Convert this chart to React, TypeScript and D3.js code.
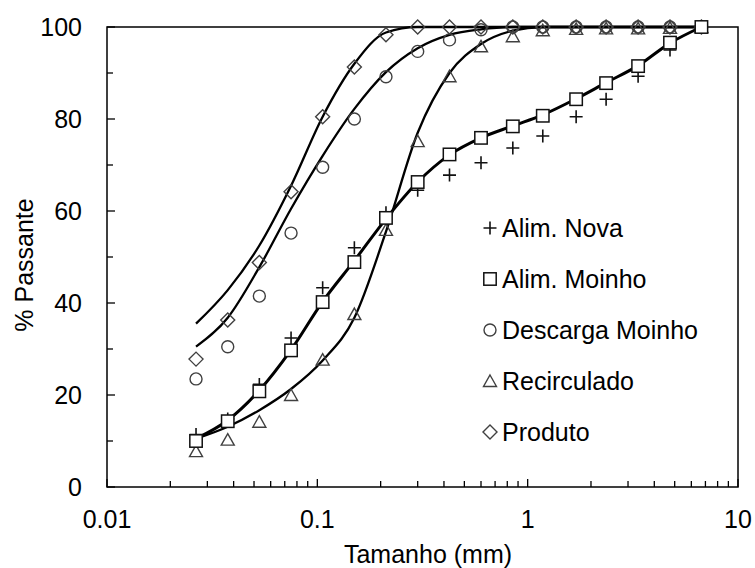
import { useEffect, useRef } from 'react'
import * as d3 from 'd3'

// sieve sizes (mm)
const sizes = [0.0265, 0.0375, 0.053, 0.075, 0.106, 0.15, 0.212, 0.3, 0.425, 0.6, 0.85, 1.18, 1.7, 2.36, 3.35, 4.75, 6.7]

// measured % passing
const alimNova = [11.4, 14.8, 22.3, 32.4, 43.3, 52, 59.6, 64.5, 67.8, 70.5, 73.7, 76.3, 80.5, 84.3, 89.3, 95, 100]
const alimMoinho = [10, 14.3, 20.8, 29.7, 40.2, 48.9, 58.5, 66.3, 72.3, 75.9, 78.4, 80.7, 84.3, 87.8, 91.5, 96.6, 100]
const descarga = [23.5, 30.5, 41.5, 55.2, 69.5, 80, 89.2, 94.7, 97.2, 99.4, 100, 100, 100, 100, 100, 100, 100]
const recirculado = [7.8, 10.3, 14.2, 20, 27.7, 37.6, 55.9, 75.2, 89.3, 95.8, 98, 99.3, 99.6, 99.7, 99.7, 99.8, 100]
const produto = [27.8, 36.3, 48.8, 64.2, 80.5, 91.3, 98.3, 100, 100, 100, 100, 100, 100, 100, 100, 100, 100]

// fitted curves, read at the same sizes
const fitProduto = [35.5, 42.8, 52.5, 65.5, 80.5, 92, 98.8, 100, 100, 100, 100, 100, 100, 100, 100, 100, 100]
const fitDescarga = [30.5, 36.8, 47.8, 60.5, 72, 82.2, 90.2, 95.4, 98.3, 99.5, 100, 100, 100, 100, 100, 100, 100]
const fitAlim = [10.5, 14.5, 21, 29.8, 40.3, 49.2, 58.3, 66.3, 72.2, 75.9, 78.5, 80.9, 84.4, 87.9, 91.6, 96.5, 100]
const fitRecirc = [10.5, 13.1, 16.7, 21.3, 27.5, 36.8, 55.5, 77, 90, 96.3, 99.2, 100, 100, 100, 100, 100, 100]

const xTicks = [0.01, 0.1, 1, 10]
const yTicks = [0, 20, 40, 60, 80, 100]

const legendNames = ['Alim. Nova', 'Alim. Moinho', 'Descarga Moinho', 'Recirculado', 'Produto']
const legendShapes = ['plus', 'square', 'circle', 'triangle', 'diamond']

const font = 'Liberation Sans, Arial, sans-serif'
const mColor = '#404040'

const drawMarker = (g, shape, cx, cy) => {
  if (shape === 'plus') {
    g.append('path')
      .attr('d', `M${cx - 6.5},${cy}H${cx + 6.5}M${cx},${cy - 6.5}V${cy + 6.5}`)
      .attr('stroke', '#111').attr('stroke-width', 1.6).attr('fill', 'none')
  } else if (shape === 'square') {
    g.append('rect')
      .attr('x', cx - 6.2).attr('y', cy - 6.2).attr('width', 12.4).attr('height', 12.4)
      .attr('fill', '#fff').attr('stroke', '#111').attr('stroke-width', 1.5)
  } else if (shape === 'circle') {
    g.append('circle')
      .attr('cx', cx).attr('cy', cy).attr('r', 6)
      .attr('fill', 'none').attr('stroke', mColor).attr('stroke-width', 1.4)
  } else if (shape === 'triangle') {
    g.append('path')
      .attr('d', `M${cx},${cy - 6}L${cx + 6.5},${cy + 5.5}L${cx - 6.5},${cy + 5.5}Z`)
      .attr('fill', 'none').attr('stroke', mColor).attr('stroke-width', 1.4)
  } else {
    g.append('path')
      .attr('d', `M${cx},${cy - 7}L${cx + 7},${cy}L${cx},${cy + 7}L${cx - 7},${cy}Z`)
      .attr('fill', 'none').attr('stroke', mColor).attr('stroke-width', 1.4)
  }
}

const App = () => {
  const chart = useRef(null)

  useEffect(() => {
    const width = 755
    const height = 568
    const margin = { top: 27, right: 17, bottom: 81, left: 107 }

    d3.select(chart.current).selectAll('*').remove()
    const svg = d3.select(chart.current)
      .append('svg')
      .attr('width', width)
      .attr('height', height)
      .style('position', 'absolute')
      .style('left', 0)
      .style('top', 0)
      .style('background', '#fff')

    const x = d3.scaleLog().domain([0.01, 10]).range([margin.left, width - margin.right])
    const y = d3.scaleLinear().domain([0, 100]).range([height - margin.bottom, margin.top])

    // fitted curves
    const line = d3.line()
      .x(d => x(d[0]))
      .y(d => y(d[1]))
      .curve(d3.curveMonotoneX)

    const fits = [
      { v: fitProduto, w: 2.3 },
      { v: fitDescarga, w: 2.3 },
      { v: fitRecirc, w: 2.3 },
      { v: fitAlim, w: 3 },
    ]
    fits.forEach(f => {
      svg.append('path')
        .datum(sizes.map((s, i) => [s, f.v[i]]))
        .attr('d', line)
        .attr('fill', 'none')
        .attr('stroke', '#000')
        .attr('stroke-width', f.w)
        .attr('stroke-linejoin', 'round')
    })

    // frame
    svg.append('rect')
      .attr('x', x(0.01)).attr('y', y(100))
      .attr('width', x(10) - x(0.01)).attr('height', y(0) - y(100))
      .attr('fill', 'none').attr('stroke', '#000').attr('stroke-width', 1.5)

    // y ticks (inside)
    d3.range(0, 101, 10).forEach(v => {
      const len = v % 20 === 0 ? 8 : 6
      svg.append('line')
        .attr('x1', x(0.01)).attr('x2', x(0.01) + len)
        .attr('y1', y(v)).attr('y2', y(v))
        .attr('stroke', '#000').attr('stroke-width', 1.3)
    })
    yTicks.forEach(v => {
      svg.append('text')
        .attr('x', 82).attr('y', y(v))
        .attr('dy', '0.36em')
        .attr('text-anchor', 'end')
        .attr('font-family', font).attr('font-size', 25)
        .attr('fill', '#000')
        .text(v)
    })

    // x ticks (inside), minor at 2..9
    const minor = []
    ;[0.01, 0.1, 1].forEach(d => d3.range(2, 10).forEach(k => minor.push(d * k)))
    minor.forEach(v => {
      svg.append('line')
        .attr('x1', x(v)).attr('x2', x(v))
        .attr('y1', y(0)).attr('y2', y(0) - 6)
        .attr('stroke', '#000').attr('stroke-width', 1.3)
    })
    xTicks.forEach(v => {
      svg.append('line')
        .attr('x1', x(v)).attr('x2', x(v))
        .attr('y1', y(0)).attr('y2', y(0) - 8)
        .attr('stroke', '#000').attr('stroke-width', 1.3)
      svg.append('text')
        .attr('x', x(v)).attr('y', 528)
        .attr('text-anchor', 'middle')
        .attr('font-family', font).attr('font-size', 25)
        .attr('fill', '#000')
        .text(v)
    })

    // axis titles
    svg.append('text')
      .attr('x', 428).attr('y', 563)
      .attr('text-anchor', 'middle')
      .attr('font-family', font).attr('font-size', 25)
      .attr('fill', '#000')
      .text('Tamanho (mm)')
    svg.append('text')
      .attr('transform', 'translate(33,265) rotate(-90)')
      .attr('text-anchor', 'middle')
      .attr('font-family', font).attr('font-size', 25)
      .attr('fill', '#000')
      .text('% Passante')

    // data markers
    const series = [
      { v: descarga, shape: 'circle' },
      { v: produto, shape: 'diamond' },
      { v: recirculado, shape: 'triangle' },
      { v: alimNova, shape: 'plus' },
      { v: alimMoinho, shape: 'square' },
    ]
    const pts = svg.append('g')
    series.forEach(s => {
      sizes.forEach((sz, i) => drawMarker(pts, s.shape, x(sz), y(s.v[i])))
    })

    // legend
    const lg = svg.append('g')
    legendNames.forEach((name, i) => {
      const cy = 228 + i * 51
      drawMarker(lg, legendShapes[i], 490, cy)
      lg.append('text')
        .attr('x', 502).attr('y', cy)
        .attr('dy', '0.36em')
        .attr('font-family', font).attr('font-size', 25)
        .attr('fill', '#000')
        .text(name)
    })
  }, [])

  return (
    <>
      <div ref={chart}></div>
    </>
  )
}

export default App
